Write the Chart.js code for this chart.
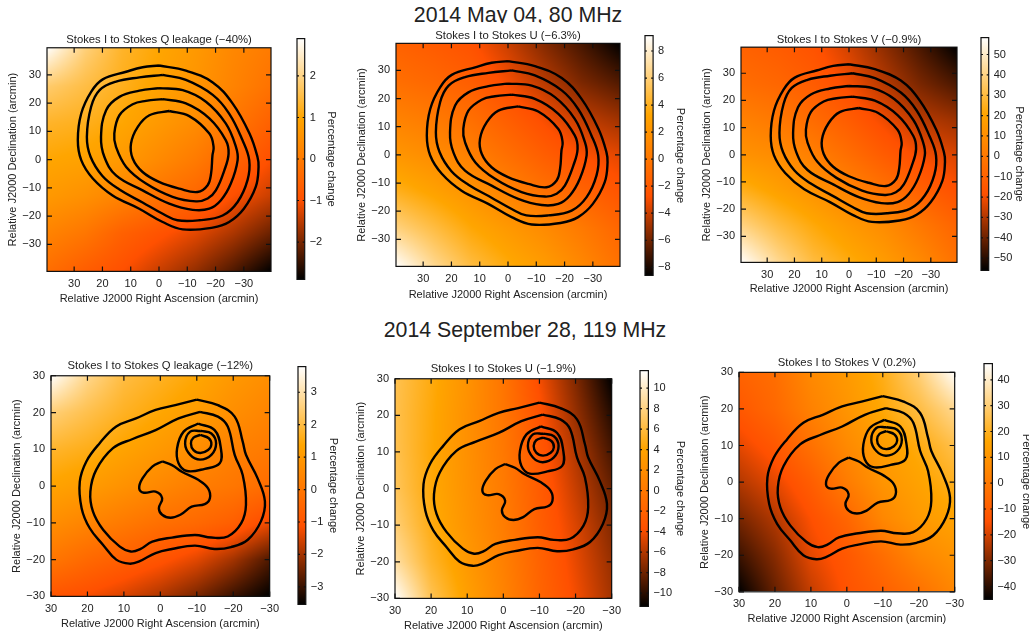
<!DOCTYPE html>
<html>
<head>
<meta charset="utf-8">
<title>Stokes leakage maps</title>
<script src="https://cdn.jsdelivr.net/npm/chart.js@4"></script>
<style>
  html, body { margin: 0; padding: 0; background: #fff; width: 1029px; height: 634px; overflow: hidden; }
  body { position: relative; }
  canvas { position: absolute; filter: blur(0.35px); }
  .heading { position: absolute; overflow: hidden; white-space: nowrap; text-align: center;
             font: 21.3px/26px "Liberation Sans", sans-serif; color: #222; }
</style>
</head>
<body>
<div class="heading" style="left:368px;width:300px;top:2px;height:21px">2014 May 04, 80 MHz</div>
<div class="heading" style="left:325px;width:400px;top:317px;height:26px">2014 September 28, 119 MHz</div>
<script>
// --- data ---
const tickValues = [30, 20, 10, 0, -10, -20, -30];

// heat map nodes, arcmin
const mayGridX = [39.6, 26, 13, 0, -13, -26, -39.6];
const mayGridY = [39.6, 26, 13, 0, -13, -26, -39.6];
const sepGridX = [30, 20, 10, 0, -10, -20, -30];
const sepGridY = [30, 20, 10, 0, -10, -20, -30];

// percentage change at the nodes, rows top to bottom
const mayQ = [
  [2.9, 1.9, 1.3, 1.0, 0.7, 0.3, 0.0],
  [1.8, 1.5, 1.2, 0.9, 0.6, 0.2, -0.2],
  [1.3, 1.2, 1.0, 0.7, 0.4, -0.1, -0.6],
  [1.0, 0.9, 0.7, 0.35, 0.0, -0.5, -1.0],
  [0.7, 0.5, 0.2, -0.2, -0.5, -1.0, -1.4],
  [0.2, -0.1, -0.6, -0.9, -1.2, -1.6, -2.1],
  [-0.3, -0.7, -1.0, -1.4, -1.8, -2.3, -2.9]
];
const mayU = [
  [-1.5, -2.0, -2.6, -4.0, -5.6, -7.0, -8.6],
  [-0.6, -1.1, -1.8, -3.0, -4.4, -5.8, -6.8],
  [0.8, 0.2, -0.6, -1.8, -3.0, -4.2, -5.0],
  [2.2, 1.5, 0.6, -0.6, -1.8, -2.8, -3.4],
  [4.0, 3.0, 2.0, 0.8, -0.4, -1.4, -2.4],
  [6.2, 4.8, 3.4, 2.4, 1.4, 0.2, -1.2],
  [9.1, 6.6, 4.8, 3.6, 2.6, 1.2, -0.4]
];
const mayV = [
  [-10, -13, -17, -25, -35, -45, -56],
  [-5, -8, -13, -20, -29, -38, -45],
  [4, 0, -6, -13, -21, -29, -33],
  [12, 9, 3, -5, -13, -20, -24],
  [25, 18, 12, 5, -3, -11, -18],
  [40, 30, 22, 15, 9, 0, -9],
  [58, 42, 30, 23, 16, 8, -3]
];
const sepQ = [
  [3.79, 2.7, 2.0, 1.7, 1.4, 1.0, 0.7],
  [2.5, 2.1, 1.7, 1.4, 1.1, 0.7, 0.4],
  [1.8, 1.6, 1.3, 1.0, 0.7, 0.3, 0.1],
  [1.3, 1.1, 0.8, 0.5, 0.2, 0.0, -0.3],
  [0.7, 0.4, 0.1, -0.2, -0.4, -0.7, -1.3],
  [0.0, -0.4, -0.7, -1.0, -1.4, -2.0, -2.8],
  [-1.0, -1.2, -1.5, -1.9, -2.4, -3.0, -3.54]
];
const sepU = [
  [6.5, 4.6, 2.4, -0.3, -4.0, -7.5, -11.3],
  [6.4, 4.4, 2.2, -0.2, -3.4, -6.8, -10.2],
  [6.5, 4.3, 2.2, 0.0, -3.0, -6.0, -9.2],
  [6.8, 4.4, 2.3, 0.2, -2.6, -5.4, -8.2],
  [7.6, 4.7, 2.5, 0.4, -2.4, -4.8, -7.4],
  [9.0, 5.4, 3.0, 0.7, -2.0, -4.4, -6.8],
  [11.7, 6.6, 3.6, 1.0, -1.8, -4.0, -6.4]
];
const sepV = [
  [-8, -4, 6, 12, 19, 30, 46],
  [-12, -6, 3, 10, 17, 24, 33],
  [-18, -12, -3, 6, 13, 18, 25],
  [-24, -18, -10, 1, 10, 15, 20],
  [-31, -24, -15, -7, 5, 12, 15],
  [-38, -29, -18, -12, -4, 5, 10],
  [-45, -33, -22, -14, -9, -3, 5]
];

// contours, [RA, Dec] in arcmin
const mayContour1 = [[0,33.3],[-9.5,31.5],[-19,27.3],[-26,19.9],[-32,9.2],[-34.8,1],[-35.2,-2.6],[-34.2,-9.7],[-30,-17.4],[-24.8,-22.1],[-19,-24.1],[-8.4,-24.7],[-1.3,-22.1],[7,-17.4],[16.4,-12.7],[23.4,-6.7],[27.5,-0.2],[28.7,6.9],[27.5,16.3],[24,24],[19.9,28.4],[11.6,31.1],[5.8,32.7],[0,33.3]];
const mayContour2 = [[-1.3,30],[-9.5,28.2],[-19,22.9],[-24.8,16.3],[-29.5,6.9],[-31.9,-0.2],[-31.3,-7.3],[-27.8,-15],[-22.5,-19.8],[-14.2,-21.5],[-6.5,-21.5],[-1.3,-19.2],[5.8,-15.2],[14,-10.6],[20,-5.8],[24.2,1],[25.5,8],[24,18.7],[21,24.6],[15.2,27.6],[6.9,29.1],[-1.3,30]];
const mayContour3 = [[0,25.3],[-8.4,24.6],[-16.6,20.5],[-23.6,12.8],[-27.2,4.5],[-27.8,-0.2],[-25.4,-8.5],[-21.9,-14.4],[-17.8,-17.4],[-11.9,-17.8],[-3.6,-15.6],[5.8,-10.9],[15.2,-5.6],[19.3,0.9],[20.5,8],[18.7,17.5],[14,22.2],[6.9,24.4],[0,25.3]];
const mayContour4 = [[-1.3,21.4],[-9.5,19.9],[-17.8,14.6],[-23.6,6.9],[-24.6,2.1],[-23.1,-3.8],[-20.1,-10.9],[-17.2,-13.8],[-13.1,-14.8],[-4.8,-13.2],[4.6,-8.5],[11.6,-2.6],[15.2,4.5],[15.8,9.2],[14,15.7],[9.3,19.6],[4.6,20.8],[-1.3,21.4]];
const mayContour5 = [[-3.6,17.2],[-10.7,15.4],[-17.8,9.2],[-19.3,4.5],[-18.9,1.5],[-18.4,-5],[-17.2,-9.1],[-13.6,-11.5],[-7.2,-10.3],[0,-7.9],[5.8,-4.4],[9.3,0.4],[9.9,5.7],[7.5,11.6],[3.4,15.7],[-3.6,17.2]];

const sepContour1 = [[-10,23.5],[-15.8,22],[-20.4,18.9],[-22.6,12.1],[-23.5,8.5],[-26.7,2.1],[-28.7,-4.2],[-27.6,-9.6],[-24,-14.6],[-19.4,-16.6],[-14.9,-17.1],[-9.5,-16.2],[-3.2,-17.1],[1.3,-18.2],[5.8,-20.5],[8.5,-21.1],[12.1,-20],[15.7,-16],[19.4,-11.4],[21.6,-6],[22.1,1.2],[20.3,6.7],[16.7,11.6],[12.1,16.2],[6.7,18.4],[1.3,20.7],[-4.1,22],[-10,23.5]];
const sepContour2 = [[-10.9,20.2],[-15.8,18.9],[-18.5,16.2],[-20.4,8.5],[-22.6,3],[-23.5,-5.1],[-22.2,-10.1],[-18.5,-13.7],[-14,-14],[-9.5,-13.3],[-3.2,-14],[2.2,-15.1],[5.4,-17.1],[8.1,-17.8],[11.2,-16.4],[15.7,-11.9],[18.5,-6.9],[19.2,-1.5],[17.6,4.4],[13,10.3],[7.6,12.8],[1.3,15.2],[-5,18.4],[-10.9,20.2]];
const sepContour3 = [[-0.5,6.7],[-3.2,5.7],[-5.9,3.9],[-10.4,1.7],[-13.1,-0.6],[-13.6,-3.3],[-12.2,-4.9],[-8.6,-5.6],[-5.5,-7.8],[-2.8,-8.6],[-0.5,-7.8],[0.4,-6],[-0.5,-3.3],[1.3,-1.5],[4.5,-1.8],[5.8,-0.6],[4.9,2.1],[2.2,5.3],[-0.5,6.7]];
const sepContour4 = [[-10.4,17],[-14.9,15.2],[-16.6,10.3],[-16.3,6.2],[-12.2,4.7],[-7.3,4.1],[-5,6.2],[-4.6,10.3],[-6.4,14.8],[-10.4,17]];
const sepContour5 = [[-11.1,15],[-14,14.3],[-15.3,11.6],[-14,8.5],[-10.9,7.2],[-8.2,8.5],[-6.8,11.6],[-8.2,14.8],[-11.1,15]];
const sepContour6 = [[-11,13.9],[-13.3,13],[-14,11.3],[-13.1,9.8],[-11,9],[-9.1,9.8],[-8.4,11.6],[-9.1,13.2],[-11,13.9]];

const mayContours = [mayContour1, mayContour2, mayContour3, mayContour4, mayContour5];
const sepContours = [sepContour1, sepContour2, sepContour3, sepContour4, sepContour5, sepContour6];

// colour bar ticks
const ticksMayQ = [2, 1, 0, -1, -2];
const ticksMayU = [8, 6, 4, 2, 0, -2, -4, -6, -8];
const ticksMayV = [50, 40, 30, 20, 10, 0, -10, -20, -30, -40, -50];
const ticksSepQ = [3, 2, 1, 0, -1, -2, -3];
const ticksSepU = [10, 8, 6, 4, 2, 0, -2, -4, -6, -8, -10];
const ticksSepV = [40, 30, 20, 10, 0, -10, -20, -30, -40];

// colour map
const cmapStops = [0, 0.33, 0.67, 1];
const cmapColors = [[0, 0, 0], [255, 80, 0], [255, 165, 0], [255, 255, 255]];

// --- layout of the six panels ---
const panels = [
  { title: "Stokes I to Stokes Q leakage (\u221240%)", values: mayQ, gridX: mayGridX, gridY: mayGridY, range: 39.6, contours: mayContours,
    min: -2.9, max: 2.9, barTicks: ticksMayQ,
    plot: [47.3, 47.3, 224.4, 223.4], titleGap: 8, xTitle: 28, bar: [297, 35, 8, 248], barTitle: 26.7 },
  { title: "Stokes I to Stokes U (\u22126.3%)", values: mayU, gridX: mayGridX, gridY: mayGridY, range: 39.6, contours: mayContours,
    min: -8.6, max: 9.14, barTicks: ticksMayU,
    plot: [395.7, 43.3, 223.6, 223.4], titleGap: 7.6, xTitle: 29, bar: [645, 31.7, 8, 246.6], barTitle: 27.3 },
  { title: "Stokes I to Stokes V (\u22120.9%)", values: mayV, gridX: mayGridX, gridY: mayGridY, range: 39.6, contours: mayContours,
    min: -56, max: 58.3, barTicks: ticksMayV,
    plot: [741, 46.7, 216.3, 215.6], titleGap: 7.4, xTitle: 27, bar: [981, 34.3, 8, 239.7], barTitle: 30.7 },
  { title: "Stokes I to Stokes Q leakage (\u221212%)", values: sepQ, gridX: sepGridX, gridY: sepGridY, range: 30, contours: sepContours,
    min: -3.54, max: 3.79, barTicks: ticksSepQ,
    plot: [50.7, 375.7, 221.6, 221], titleGap: 10, xTitle: 28, bar: [297.5, 363.3, 8, 245], barTitle: 27.6 },
  { title: "Stokes I to Stokes U (\u22121.9%)", values: sepU, gridX: sepGridX, gridY: sepGridY, range: 30, contours: sepContours,
    min: -11.3, max: 11.7, barTicks: ticksSepU,
    plot: [395, 378.3, 220, 219.4], titleGap: 10, xTitle: 28, bar: [639.5, 366.7, 8, 242.6], barTitle: 32 },
  { title: "Stokes I to Stokes V (0.2%)", values: sepV, gridX: sepGridX, gridY: sepGridY, range: 30, contours: sepContours,
    min: -45, max: 46.3, barTicks: ticksSepV,
    plot: [739, 372.3, 219.3, 219.4], titleGap: 9.6, xTitle: 27.6, bar: [983.5, 360, 8, 243.3], barTitle: 34 }
];

const FONT = "Liberation Sans";
const TEXT = "#222";
const minus = v => String(v).replace("-", "\u2212");

const cmap = t => {
  t = Math.min(1, Math.max(0, t));
  let i = 0;
  while (i < cmapStops.length - 2 && t > cmapStops[i + 1]) i++;
  const f = (t - cmapStops[i]) / (cmapStops[i + 1] - cmapStops[i]);
  return cmapColors[i].map((c, k) => c + (cmapColors[i + 1][k] - c) * f);
};

// index + fraction of a coordinate in a descending node list
const locate = (nodes, v) => {
  let i = 0;
  while (i < nodes.length - 2 && v < nodes[i + 1]) i++;
  const f = (nodes[i] - v) / (nodes[i] - nodes[i + 1]);
  return [i, Math.min(1, Math.max(0, f))];
};

// paints the map under the contours, like an image with smoothing
const heatPlugin = (p) => ({
  id: "heat",
  beforeDatasetsDraw(chart) {
    const { x, y } = chart.scales;
    const left = Math.round(chart.chartArea.left), top = Math.round(chart.chartArea.top);
    const w = Math.round(chart.chartArea.width), h = Math.round(chart.chartArea.height);
    const img = chart.ctx.createImageData(w, h);
    for (let py = 0; py < h; py++) {
      const [j, fy] = locate(p.gridY, y.getValueForPixel(top + py + 0.5));
      for (let px = 0; px < w; px++) {
        const [i, fx] = locate(p.gridX, x.getValueForPixel(left + px + 0.5));
        const v = p.values[j][i] * (1 - fx) * (1 - fy) + p.values[j][i + 1] * fx * (1 - fy)
                + p.values[j + 1][i] * (1 - fx) * fy + p.values[j + 1][i + 1] * fx * fy;
        const c = cmap((v - p.min) / (p.max - p.min));
        const o = (py * w + px) * 4;
        img.data[o] = c[0]; img.data[o + 1] = c[1]; img.data[o + 2] = c[2]; img.data[o + 3] = 255;
      }
    }
    const off = document.createElement("canvas");
    off.width = w; off.height = h;
    off.getContext("2d").putImageData(img, 0, 0);
    chart.ctx.drawImage(off, left, top);
  }
});

// box and inward ticks on all sides
const framePlugin = {
  id: "frame",
  afterDatasetsDraw(chart, args, opts) {
    const { ctx, chartArea: a } = chart;
    ctx.save();
    ctx.strokeStyle = "#111";
    ctx.lineWidth = 1.2;
    ctx.strokeRect(a.left, a.top, a.width, a.height);
    ctx.beginPath();
    opts.axes.forEach(id => {
      const s = chart.scales[id];
      s.ticks.forEach(t => {
        const at = s.getPixelForValue(t.value);
        if (id === "x") {
          ctx.moveTo(at, a.top); ctx.lineTo(at, a.top + opts.len);
          ctx.moveTo(at, a.bottom); ctx.lineTo(at, a.bottom - opts.len);
        } else {
          ctx.moveTo(a.left, at); ctx.lineTo(a.left + opts.len, at);
          ctx.moveTo(a.right, at); ctx.lineTo(a.right - opts.len, at);
        }
      });
    });
    ctx.stroke();
    ctx.restore();
  }
};

const addCanvas = (left, top, width, height) => {
  const c = document.createElement("canvas");
  c.width = Math.round(width); c.height = Math.round(height);
  c.style.left = left + "px"; c.style.top = top + "px";
  document.body.appendChild(c);
  return c;
};

const labelFont = { family: FONT, size: 11, weight: "normal" };
const titleFont = { family: FONT, size: 11.3, weight: "normal" };
const tickFont = { family: FONT, size: 11, weight: "normal" };

const drawPanel = (p) => {
  const [pl, pt, pw, ph] = p.plot;
  const axisL = 41, padR = 12, padTop = 2;
  const titleBox = padTop + 11.3 * 1.2 + (p.titleGap - 6.8);
  const axisB = p.xTitle + 6.6;

  const mapAxis = (extra) => ({
    min: -p.range, max: p.range,
    grid: { display: false, drawTicks: false },
    border: { display: false },
    afterBuildTicks: s => { s.ticks = tickValues.map(v => ({ value: v })); },
    ...extra
  });

  new Chart(addCanvas(pl - axisL, pt - titleBox, axisL + pw + padR, titleBox + ph + axisB), {
    type: "line",
    data: {
      datasets: p.contours.map(c => ({
        data: c.map(([x, y]) => ({ x, y })),
        borderColor: "#000", borderWidth: 2.4, pointRadius: 0, tension: 0.4, fill: false
      }))
    },
    options: {
      responsive: false, animation: false, events: [],
      layout: { padding: { left: 0, right: padR, top: 0, bottom: 0 } },
      plugins: {
        legend: { display: false },
        tooltip: { enabled: false },
        title: { display: true, fullSize: false, text: p.title, color: TEXT, font: titleFont,
                 padding: { top: padTop, bottom: p.titleGap - 6.8 } },
        frame: { axes: ["x", "y"], len: 5 }
      },
      scales: {
        x: mapAxis({
          type: "linear", reverse: true,
          afterFit: s => { s.height = axisB; },
          ticks: { color: TEXT, font: tickFont, padding: 6, autoSkip: false, maxRotation: 0, callback: minus },
          title: { display: true, text: "Relative J2000 Right Ascension (arcmin)", color: TEXT, font: labelFont, padding: 0 }
        }),
        y: mapAxis({
          type: "linear",
          afterFit: s => { s.width = axisL; },
          ticks: { color: TEXT, font: tickFont, padding: 6, autoSkip: false, callback: minus },
          title: { display: true, text: "Relative J2000 Declination (arcmin)", color: TEXT, font: labelFont, padding: 0 }
        })
      }
    },
    plugins: [heatPlugin(p), framePlugin]
  });

  // colour bar
  const [bl, bt, bw, bh] = p.bar;
  const barAxis = p.barTitle + 6.6, pad = 8;
  new Chart(addCanvas(bl - 2, bt - pad, 2 + bw + barAxis, bh + 2 * pad), {
    type: "bar",
    data: {
      labels: [""],
      datasets: [{
        data: [[p.min, p.max]],
        barPercentage: 1, categoryPercentage: 1, borderWidth: 0,
        backgroundColor: (ctx) => {
          const a = ctx.chart.chartArea;
          if (!a) return "#ff8000";
          const g = ctx.chart.ctx.createLinearGradient(0, a.bottom, 0, a.top);
          cmapStops.forEach((s, i) => g.addColorStop(s, `rgb(${cmapColors[i].join(",")})`));
          return g;
        }
      }]
    },
    options: {
      responsive: false, animation: false, events: [],
      layout: { padding: { left: 2, right: 0, top: pad, bottom: pad } },
      plugins: { legend: { display: false }, tooltip: { enabled: false }, frame: { axes: ["y"], len: 2 } },
      scales: {
        x: { display: false },
        y: {
          position: "right", min: p.min, max: p.max,
          grid: { display: false, drawTicks: false },
          border: { display: false },
          afterBuildTicks: s => { s.ticks = p.barTicks.map(v => ({ value: v })); },
          afterFit: s => { s.width = barAxis; },
          ticks: { color: TEXT, font: tickFont, padding: 5, autoSkip: false, callback: minus },
          title: { display: true, text: "Percentage change", color: TEXT, font: labelFont, padding: 0 }
        }
      }
    },
    plugins: [framePlugin]
  });
};

panels.forEach(drawPanel);
</script>
</body>
</html>
